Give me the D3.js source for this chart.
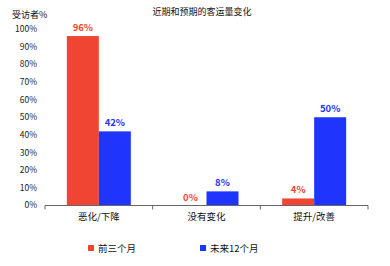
<!DOCTYPE html>
<html>
<head>
<meta charset="utf-8">
<script src="https://cdn.jsdelivr.net/npm/d3@7"></script>
<style>
  body { margin: 0; background: #fff; }
  text { font-family: "Noto Sans CJK SC", "Noto Sans", sans-serif; }
</style>
</head>
<body>
<div class="chart"></div>
<script>
var categories = ["恶化/下降", "没有变化", "提升/改善"];
var seriesNames = ["前三个月", "未来12个月"];
var lastThree = [96, 0, 4];
var nextTwelve = [42, 8, 50];
var yTicks = [0, 10, 20, 30, 40, 50, 60, 70, 80, 90, 100];
var colors = ["#f04532", "#1f35fb"];

var svgWidth = 390;
var svgHeight = 266;

var svg = d3.select(".chart")
  .append("svg")
  .attr("width", svgWidth)
  .attr("height", svgHeight);

var x0 = d3.scaleBand()
  .domain(categories)
  .range([45, 368]);

var x1 = d3.scaleBand()
  .domain(seriesNames)
  .range([0, 64]);

var y = d3.scaleLinear()
  .domain([0, 100])
  .range([205.5, 29]);

// y tick labels (no axis line)
svg.append("g")
  .selectAll("text")
  .data(yTicks)
  .enter()
  .append("text")
  .attr("x", 37)
  .attr("y", d => y(d))
  .attr("dy", "0.35em")
  .attr("text-anchor", "end")
  .attr("font-size", 8.5)
  .attr("fill", "#222")
  .text(d => d + "%");

// bars
var rows = categories.map(function(c, i) {
  return [
    { cat: c, name: seriesNames[0], value: lastThree[i], color: colors[0] },
    { cat: c, name: seriesNames[1], value: nextTwelve[i], color: colors[1] }
  ];
});

var groups = svg.selectAll(".grp")
  .data(rows)
  .enter()
  .append("g")
  .attr("transform", d => `translate(${x0(d[0].cat) + (x0.bandwidth() - 64) / 2}, 0)`);

groups.selectAll("rect")
  .data(d => d)
  .enter()
  .append("rect")
  .attr("x", d => x1(d.name))
  .attr("width", x1.bandwidth())
  .attr("y", d => y(d.value))
  .attr("height", d => y(0) - y(d.value))
  .attr("fill", d => d.color);

groups.selectAll(".val")
  .data(d => d)
  .enter()
  .append("text")
  .attr("x", d => x1(d.name) + x1.bandwidth() / 2)
  .attr("y", d => y(d.value) - 5)
  .attr("text-anchor", "middle")
  .attr("font-size", 9.5)
  .attr("font-weight", "bold")
  .attr("fill", d => d.color)
  .text(d => d.value + "%");

// x axis
var xAxis = svg.append("g")
  .attr("transform", `translate(0, ${y(0)})`)
  .call(d3.axisBottom(x0).tickSize(0).tickPadding(8));
xAxis.select(".domain").attr("stroke", "#666").attr("d", "M45,4V0H368V4");
xAxis.selectAll("text").attr("font-size", 9.5).attr("fill", "#111")
  .style("font-family", '"Noto Sans CJK SC", sans-serif');
xAxis.selectAll(".sep")
  .data([1, 2])
  .enter()
  .append("line")
  .attr("x1", d => x0(categories[d]))
  .attr("x2", d => x0(categories[d]))
  .attr("y1", 0)
  .attr("y2", 4)
  .attr("stroke", "#666");

// title and y label
svg.append("text")
  .attr("x", 202)
  .attr("y", 15)
  .attr("text-anchor", "middle")
  .attr("font-size", 9)
  .attr("fill", "#111")
  .text("近期和预期的客运量变化");

svg.append("text")
  .attr("x", 12)
  .attr("y", 18)
  .attr("font-size", 9)
  .attr("fill", "#111")
  .text("受访者%");

// legend
var legend = svg.selectAll(".leg")
  .data(seriesNames)
  .enter()
  .append("g")
  .attr("transform", (d, i) => `translate(${i === 0 ? 88 : 200}, 249)`);

legend.append("rect")
  .attr("x", 0)
  .attr("y", -4)
  .attr("width", 6)
  .attr("height", 6)
  .attr("fill", (d, i) => colors[i]);

legend.append("text")
  .attr("x", 10)
  .attr("y", 0)
  .attr("dy", "0.35em")
  .attr("font-size", 9.5)
  .attr("fill", "#111")
  .text(d => d);
</script>
</body>
</html>
